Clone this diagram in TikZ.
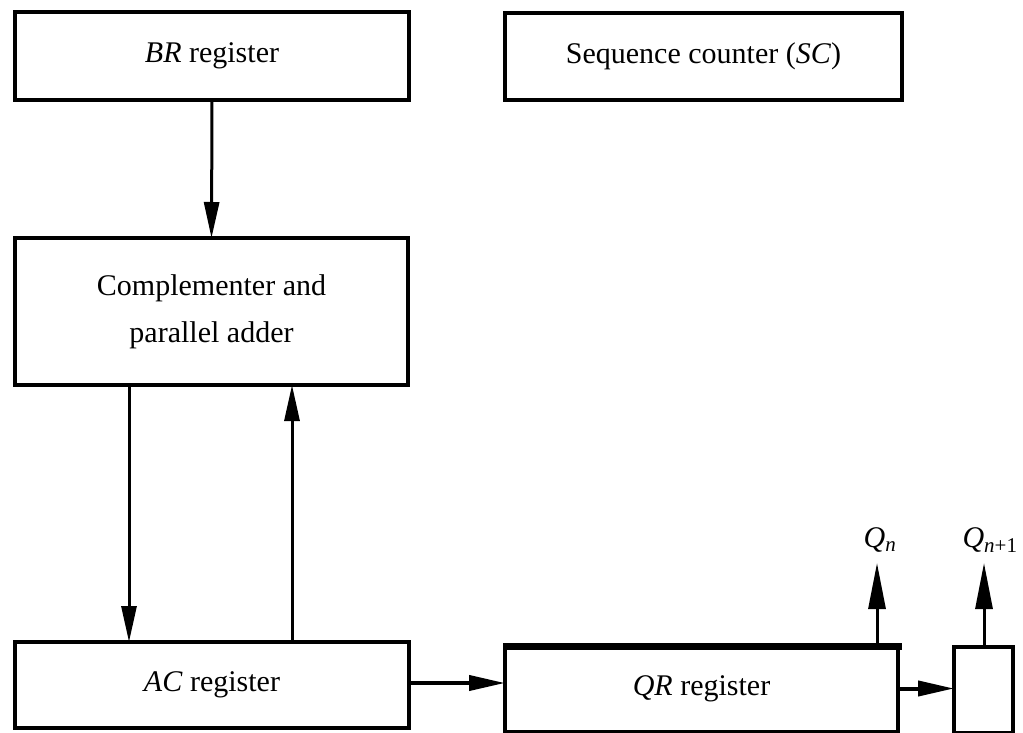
\documentclass[tikz,border=0pt]{standalone}
\usepackage{fontspec}
\setmainfont{Liberation Serif}
\usetikzlibrary{arrows.meta}
\begin{document}
\begin{tikzpicture}[x=1pt,y=-1pt,
  regbox/.style={draw=black,line width=3.5pt,inner sep=0pt,outer sep=0pt,align=center,
    font=\fontsize{30}{47}\selectfont},
  arr/.style={line width=3pt,-{Triangle[length=36pt,width=15pt]}},
  longarr/.style={line width=3pt,-{Triangle[length=46pt,width=17pt]}},
  lbl/.style={inner sep=0pt,font=\fontsize{30}{36}\selectfont}]
\useasboundingbox (0,0) rectangle (1023,733);
\node[regbox,minimum width=394pt,minimum height=88pt] (BR) at (212,56) {\textit{BR} register};
\node[regbox,minimum width=397pt,minimum height=87pt] (SC) at (703.5,56.5) {Sequence counter (\textit{SC})};
\node[regbox,minimum width=393pt,minimum height=147pt] (CA) at (211.5,311.5) {Complementer and\\parallel adder};
\node[regbox,minimum width=394pt,minimum height=86pt] (AC) at (212,685) {\textit{AC} register};
\node[regbox,minimum width=393pt,minimum height=87pt] (QR) at (701.5,688.5) {\textit{QR} register};
\node[regbox,minimum width=59pt,minimum height=86pt] (QB) at (983.5,690) {};
\draw[line width=7pt] ([yshift=-1.5pt]QR.north west) -- ([yshift=-1.5pt,xshift=4pt]QR.north east);
\node[lbl] (Qn) at (880,540) {\textit{Q}\textsubscript{\textit{n}}};
\node[lbl] (Qn1) at (990,540) {\textit{Q}\textsubscript{\textit{n}+1}};
\coordinate (qnTip) at (877,563);
\coordinate (qn1Tip) at (984,563);
\draw[arr] (BR.south) -- (CA.north);
\draw[arr] ([xshift=114pt]CA.south west) -- ([xshift=114pt]AC.north west);
\draw[arr] ([xshift=277pt]AC.north west) -- ([xshift=277pt]CA.south west);
\draw[arr,line width=4pt] ([yshift=2pt]AC.east) -- ([yshift=2pt]AC.east -| QR.west);
\draw[arr,line width=4pt] (QR.east) -- (QR.east -| QB.west);
\draw[longarr] (qnTip |- QR.north) -- (qnTip);
\draw[longarr] (qn1Tip |- QB.north) -- (qn1Tip);
\end{tikzpicture}
\end{document}
